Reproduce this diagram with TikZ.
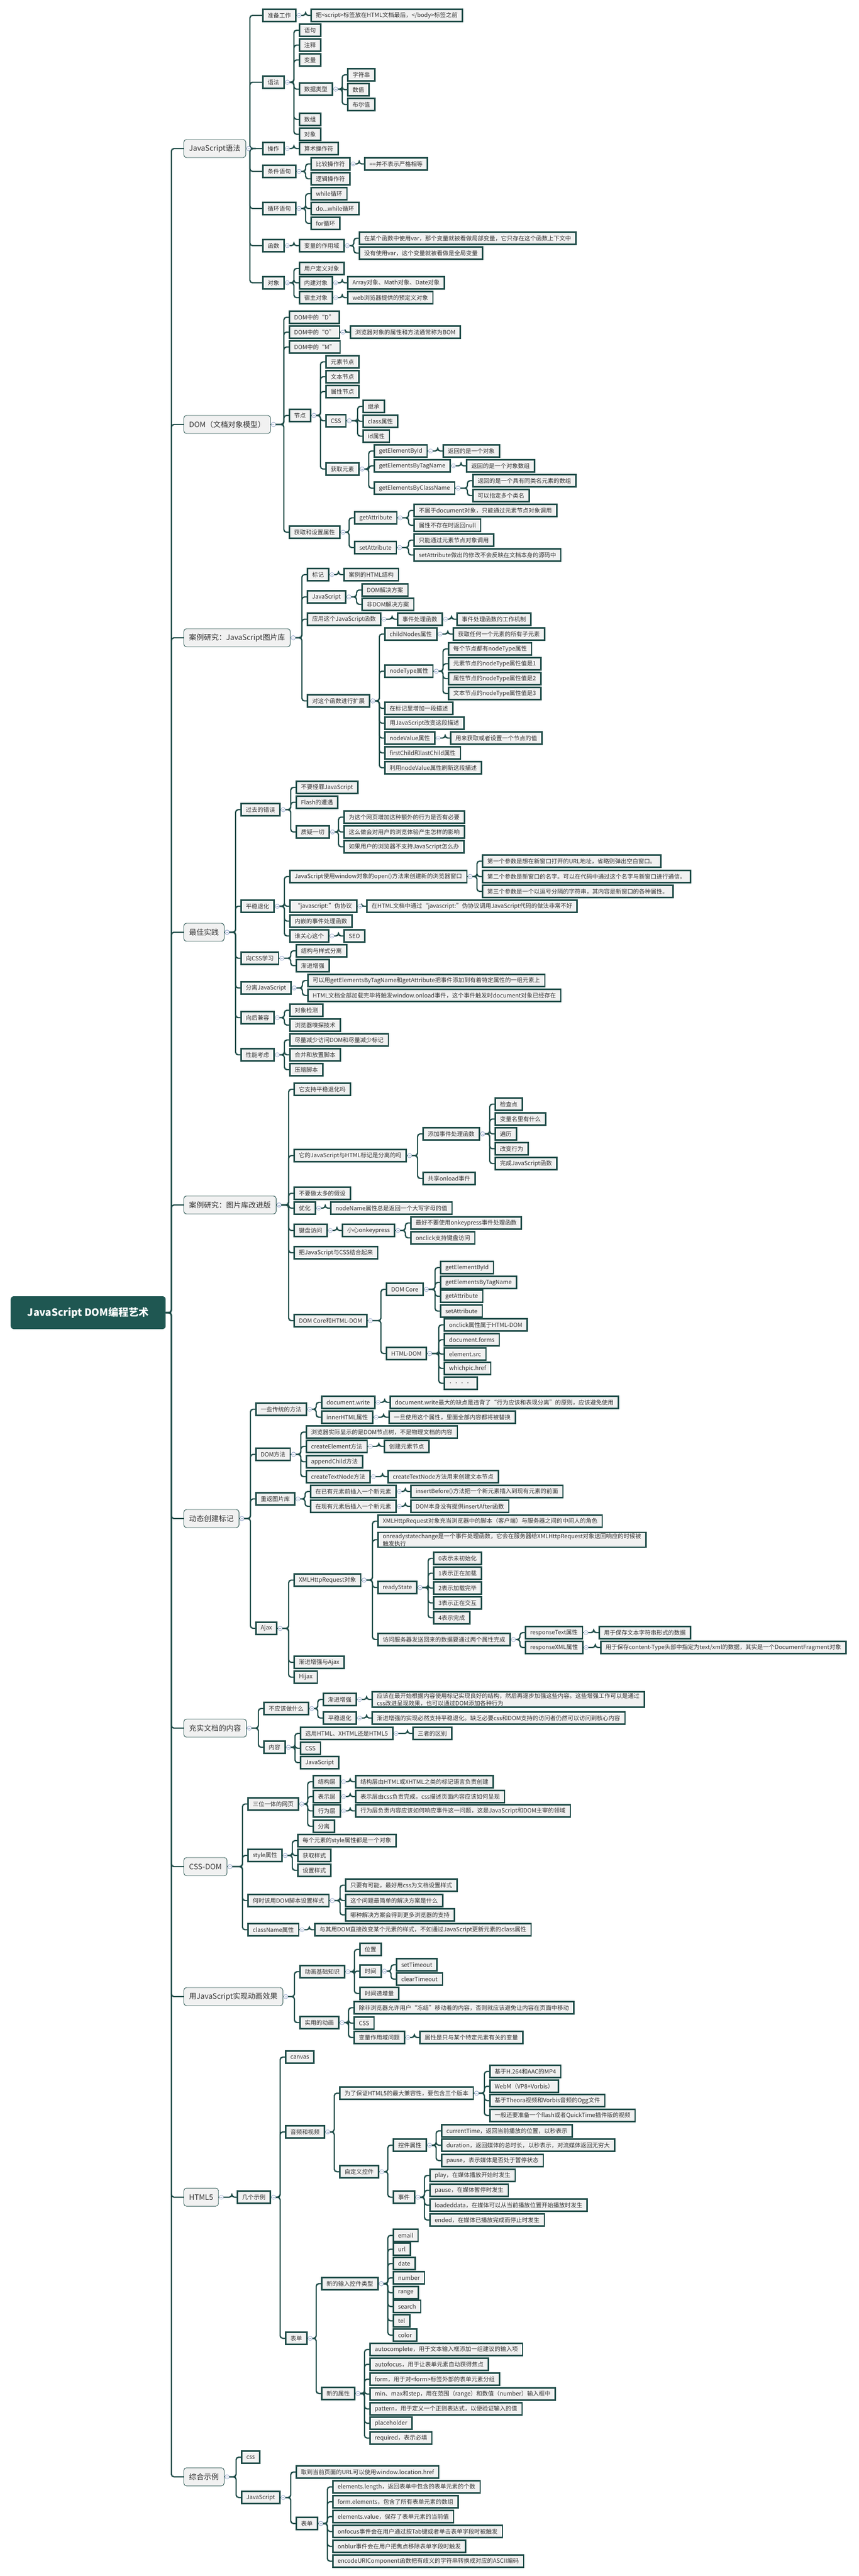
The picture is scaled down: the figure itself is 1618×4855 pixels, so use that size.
\documentclass[tikz,border=0pt]{standalone}
\usepackage{fontspec}
\setmainfont{Noto Sans CJK SC}
\definecolor{tealc}{HTML}{1E4C48}
\definecolor{boxf}{HTML}{F1F1F1}
\definecolor{txt}{HTML}{333333}
\definecolor{cblue}{HTML}{8FA0C8}
\definecolor{rootf}{HTML}{1F5752}
\tikzset{
 box/.style={draw=tealc, line width=2.6pt, fill=boxf, font=\fontsize{11}{14}\selectfont, text=txt, inner xsep=9pt, inner ysep=2pt, minimum height=23pt, anchor=west, align=left},
 lone/.style={draw=tealc, line width=0.9pt, fill=boxf, rounded corners=5pt, font=\fontsize{14}{16}\selectfont, text=txt, minimum height=34pt, inner xsep=10pt, anchor=west},
 rootst/.style={fill=rootf, rounded corners=6pt, text=white, font=\fontsize{19}{22}\selectfont\bfseries, minimum height=62pt, minimum width=292pt, anchor=west},
 conn/.style={draw=tealc, line width=2.4pt, rounded corners=5pt},
 coll/.style={circle, draw=cblue, fill=white, line width=0.6pt, inner sep=0pt, minimum size=8pt}
}
\newcommand\B[4]{\node[box] (#1) at (#2,#3) {#4};}
\newcommand\Lone[3]{\node[lone] (#1) at (346,#2) {#3};}
\newcommand\C[3][9]{\draw[conn] ([xshift=9pt]#2.east) -- ([xshift=-#1pt]#3.west |- #2.east) |- (#3.west);
  \draw[conn,line width=1.2pt] (#2.east) -- ([xshift=1pt]#2.east);
  \node[coll] at ([xshift=5pt]#2.east) {};
  \draw[cblue,line width=0.6pt] ([xshift=3pt]#2.east) -- ([xshift=7pt]#2.east);}
\begin{document}
\begin{tikzpicture}[x=1pt,y=-1pt]
\useasboundingbox (0,0) rectangle (1618,4855);
\node[rootst] (root) at (20,2474) {JavaScript DOM编程艺术};
\Lone{a}{280}{JavaScript语法}
\Lone{b}{800}{DOM（文档对象模型）}
\Lone{c}{1202}{案例研究：JavaScript图片库}
\Lone{d}{1757}{最佳实践}
\Lone{e}{2271}{案例研究：图片库改进版}
\Lone{f}{2862}{动态创建标记}
\Lone{g}{3257}{充实文档的内容}
\Lone{h}{3518}{CSS-DOM}
\Lone{i}{3763}{用JavaScript实现动画效果}
\Lone{j}{4141}{HTML5}
\Lone{k}{4668}{综合示例}
\foreach \n in {a,b,c,d,e,f,g,h,i,j,k}{\draw[conn] (root.east) -- ([xshift=-23pt]\n.west |- root.east) |- (\n.west);}
% a
\B{a1}{494}{29}{准备工作}\B{a1a}{585}{29}{把<script>标签放在HTML文档最后，</body>标签之前}
\B{a2}{494}{155}{语法}
\B{a2a}{563}{57}{语句}\B{a2b}{563}{85}{注释}\B{a2c}{563}{113}{变量}\B{a2d}{563}{168}{数据类型}
\B{a2d1}{654}{141}{字符串}\B{a2d2}{654}{169}{数值}\B{a2d3}{654}{197}{布尔值}
\B{a2e}{563}{225}{数组}\B{a2f}{563}{253}{对象}
\B{a3}{494}{280}{操作}\B{a3a}{563}{280}{算术操作符}
\B{a4}{494}{323}{条件语句}\B{a4a}{585}{309}{比较操作符}\B{a4a1}{686}{309}{==并不表示严格相等}\B{a4b}{585}{337}{逻辑操作符}
\B{a5}{494}{393}{循环语句}\B{a5a}{585}{365}{while循环}\B{a5b}{585}{393}{do...while循环}\B{a5c}{585}{421}{for循环}
\B{a6}{494}{463}{函数}\B{a6a}{563}{463}{变量的作用域}
\B{a6a1}{676}{449}{在某个函数中使用var，那个变量就被看做局部变量，它只存在这个函数上下文中}
\B{a6a2}{676}{477}{没有使用var，这个变量就被看做是全局变量}
\B{a7}{494}{533}{对象}\B{a7a}{563}{506}{用户定义对象}\B{a7b}{563}{533}{内建对象}\B{a7b1}{654}{533}{Array对象、Math对象、Date对象}
\B{a7c}{563}{561}{宿主对象}\B{a7c1}{654}{561}{web浏览器提供的预定义对象}
\foreach \n in {a1,a2,a3,a4,a5,a6,a7}{\C[23]{a}{\n}}
\C{a1}{a1a}
\foreach \n in {a2a,a2b,a2c,a2d,a2e,a2f}{\C{a2}{\n}}
\foreach \n in {a2d1,a2d2,a2d3}{\C{a2d}{\n}}
\C{a3}{a3a}\C{a4}{a4a}\C{a4}{a4b}\C{a4a}{a4a1}
\C{a5}{a5a}\C{a5}{a5b}\C{a5}{a5c}
\C{a6}{a6a}\C{a6a}{a6a1}\C{a6a}{a6a2}
\C{a7}{a7a}\C{a7}{a7b}\C{a7}{a7c}\C{a7b}{a7b1}\C{a7c}{a7c1}
% b
\B{b1}{544}{598}{DOM中的“D”}\B{b2}{544}{626}{DOM中的“O”}\B{b2a}{659}{626}{浏览器对象的属性和方法通常称为BOM}\B{b3}{544}{654}{DOM中的“M”}
\B{b4}{544}{783}{节点}
\B{b4a}{613}{682}{元素节点}\B{b4b}{613}{710}{文本节点}\B{b4c}{613}{738}{属性节点}\B{b4d}{613}{793}{CSS}
\B{b4d1}{683}{766}{继承}\B{b4d2}{683}{794}{class属性}\B{b4d3}{683}{822}{id属性}
\B{b4e}{613}{884}{获取元素}
\B{b4e1}{704}{850}{getElementById}\B{b4e1a}{834}{850}{返回的是一个对象}
\B{b4e2}{704}{878}{getElementsByTagName}\B{b4e2a}{878}{878}{返回的是一个对象数组}
\B{b4e3}{704}{920}{getElementsByClassName}\B{b4e3a}{890}{906}{返回的是一个具有同类名元素的数组}\B{b4e3b}{890}{934}{可以指定多个类名}
\B{b5}{544}{1003}{获取和设置属性}
\B{b5a}{667}{976}{getAttribute}\B{b5a1}{779}{962}{不属于document对象，只能通过元素节点对象调用}\B{b5a2}{779}{990}{属性不存在时返回null}
\B{b5b}{667}{1032}{setAttribute}\B{b5b1}{779}{1018}{只能通过元素节点对象调用}\B{b5b2}{779}{1046}{setAttribute做出的修改不会反映在文档本身的源码中}
\foreach \n in {b1,b2,b3,b4,b5}{\C{b}{\n}}
\C{b2}{b2a}
\foreach \n in {b4a,b4b,b4c,b4d,b4e}{\C{b4}{\n}}
\foreach \n in {b4d1,b4d2,b4d3}{\C{b4d}{\n}}
\foreach \n in {b4e1,b4e2,b4e3}{\C{b4e}{\n}}
\C{b4e1}{b4e1a}\C{b4e2}{b4e2a}\C{b4e3}{b4e3a}\C{b4e3}{b4e3b}
\C{b5}{b5a}\C{b5}{b5b}\C{b5a}{b5a1}\C{b5a}{b5a2}\C{b5b}{b5b1}\C{b5b}{b5b2}
% c
\B{c1}{578}{1083}{标记}\B{c1a}{647}{1083}{案例的HTML结构}
\B{c2}{578}{1125}{JavaScript}\B{c2a}{681}{1112}{DOM解决方案}\B{c2b}{681}{1139}{非DOM解决方案}
\B{c3}{578}{1167}{应用这个JavaScript函数}\B{c3a}{748}{1167}{事件处理函数}\B{c3a1}{860}{1167}{事件处理函数的工作机制}
\B{c4}{578}{1321}{对这个函数进行扩展}
\B{c4a}{724}{1195}{childNodes属性}\B{c4a1}{853}{1195}{获取任何一个元素的所有子元素}
\B{c4b}{724}{1265}{nodeType属性}
\B{c4b1}{844}{1223}{每个节点都有nodeType属性}\B{c4b2}{844}{1251}{元素节点的nodeType属性值是1}
\B{c4b3}{844}{1279}{属性节点的nodeType属性值是2}\B{c4b4}{844}{1307}{文本节点的nodeType属性值是3}
\B{c4c}{724}{1335}{在标记里增加一段描述}\B{c4d}{724}{1363}{用JavaScript改变这段描述}
\B{c4e}{724}{1391}{nodeValue属性}\B{c4e1}{848}{1391}{用来获取或者设置一个节点的值}
\B{c4f}{724}{1419}{firstChild和lastChild属性}\B{c4g}{724}{1447}{利用nodeValue属性刷新这段描述}
\foreach \n in {c1,c2,c3,c4}{\C{c}{\n}}
\C{c1}{c1a}\C{c2}{c2a}\C{c2}{c2b}\C{c3}{c3a}\C{c3a}{c3a1}
\foreach \n in {c4a,c4b,c4c,c4d,c4e,c4f,c4g}{\C{c4}{\n}}
\C{c4a}{c4a1}\C{c4e}{c4e1}
\foreach \n in {c4b1,c4b2,c4b3,c4b4}{\C{c4b}{\n}}
% d
\B{d1}{453}{1526}{过去的错误}
\B{d1a}{557}{1484}{不要怪罪JavaScript}\B{d1b}{557}{1512}{Flash的遭遇}\B{d1c}{557}{1568}{质疑一切}
\B{d1c1}{647}{1540}{为这个网页增加这种额外的行为是否有必要}\B{d1c2}{647}{1568}{这么做会对用户的浏览体验产生怎样的影响}\B{d1c3}{647}{1596}{如果用户的浏览器不支持JavaScript怎么办}
\B{d2}{453}{1708}{平稳退化}
\B{d2a}{545}{1652}{JavaScript使用window对象的open()方法来创建新的浏览器窗口}
\B{d2a1}{908}{1623}{第一个参数是想在新窗口打开的URL地址，省略则弹出空白窗口。}
\B{d2a2}{908}{1652}{第二个参数是新窗口的名字。可以在代码中通过这个名字与新窗口进行通信。}
\B{d2a3}{908}{1680}{第三个参数是一个以逗号分隔的字符串，其内容是新窗口的各种属性。}
\B{d2b}{545}{1708}{“javascript:”伪协议}\B{d2b1}{690}{1708}{在HTML文档中通过“javascript:”伪协议调用JavaScript代码的做法非常不好}
\B{d2c}{545}{1736}{内嵌的事件处理函数}\B{d2d}{545}{1764}{谁关心这个}\B{d2d1}{647}{1764}{SEO}
\B{d3}{453}{1806}{向CSS学习}\B{d3a}{557}{1792}{结构与样式分离}\B{d3b}{557}{1820}{渐进增强}
\B{d4}{453}{1862}{分离JavaScript}
\B{d4a}{579}{1848}{可以用getElementsByTagName和getAttribute把事件添加到有着特定属性的一组元素上}
\B{d4b}{579}{1876}{HTML文档全部加载完毕将触发window.onload事件，这个事件触发时document对象已经存在}
\B{d5}{453}{1918}{向后兼容}\B{d5a}{545}{1904}{对象检测}\B{d5b}{545}{1932}{浏览器嗅探技术}
\B{d6}{453}{1988}{性能考虑}\B{d6a}{545}{1960}{尽量减少访问DOM和尽量减少标记}\B{d6b}{545}{1988}{合并和放置脚本}\B{d6c}{545}{2016}{压缩脚本}
\foreach \n in {d1,d2,d3,d4,d5,d6}{\C{d}{\n}}
\C{d1}{d1a}\C{d1}{d1b}\C{d1}{d1c}\C{d1c}{d1c1}\C{d1c}{d1c2}\C{d1c}{d1c3}
\foreach \n in {d2a,d2b,d2c,d2d}{\C{d2}{\n}}
\C{d2a}{d2a1}\C{d2a}{d2a2}\C{d2a}{d2a3}\C{d2b}{d2b1}\C{d2d}{d2d1}
\C{d3}{d3a}\C{d3}{d3b}\C{d4}{d4a}\C{d4}{d4b}\C{d5}{d5a}\C{d5}{d5b}
\C{d6}{d6a}\C{d6}{d6b}\C{d6}{d6c}
% e
\B{e1}{553}{2053}{它支持平稳退化吗}
\B{e2}{553}{2178}{它的JavaScript与HTML标记是分离的吗}
\B{e2a}{796}{2137}{添加事件处理函数}
\B{e2a1}{932}{2081}{检查点}\B{e2a2}{932}{2109}{变量名里有什么}\B{e2a3}{932}{2137}{遍历}\B{e2a4}{932}{2165}{改变行为}\B{e2a5}{932}{2193}{完成JavaScript函数}
\B{e2b}{796}{2221}{共享onload事件}
\B{e3}{553}{2249}{不要做太多的假设}
\B{e4}{553}{2277}{优化}\B{e4a}{622}{2277}{nodeName属性总是返回一个大写字母的值}
\B{e5}{553}{2319}{键盘访问}\B{e5a}{644}{2319}{小心onkeypress}
\B{e5a1}{773}{2305}{最好不要使用onkeypress事件处理函数}\B{e5a2}{773}{2333}{onclick支持键盘访问}
\B{e6}{553}{2361}{把JavaScript与CSS结合起来}
\B{e7}{553}{2489}{DOM Core和HTML-DOM}
\B{e7a}{727}{2430}{DOM Core}
\B{e7a1}{829}{2389}{getElementById}\B{e7a2}{829}{2417}{getElementsByTagName}\B{e7a3}{829}{2443}{getAttribute}\B{e7a4}{829}{2471}{setAttribute}
\B{e7b}{727}{2551}{HTML-DOM}
\B{e7b1}{836}{2497}{onclick属性属于HTML-DOM}\B{e7b2}{836}{2525}{document.forms}\B{e7b3}{836}{2552}{element.src}\B{e7b4}{836}{2579}{whichpic.href}\B{e7b5}{836}{2607}{．．．．}
\foreach \n in {e1,e2,e3,e4,e5,e6,e7}{\C{e}{\n}}
\C{e2}{e2a}\C{e2}{e2b}
\foreach \n in {e2a1,e2a2,e2a3,e2a4,e2a5}{\C{e2a}{\n}}
\C{e4}{e4a}\C{e5}{e5a}\C{e5a}{e5a1}\C{e5a}{e5a2}
\C{e7}{e7a}\C{e7}{e7b}
\foreach \n in {e7a1,e7a2,e7a3,e7a4}{\C{e7a}{\n}}
\foreach \n in {e7b1,e7b2,e7b3,e7b4,e7b5}{\C{e7b}{\n}}
% f
\B{f1}{481}{2656}{一些传统的方法}
\B{f1a}{605}{2643}{document.write}\B{f1a1}{734}{2643}{document.write最大的缺点是违背了“行为应该和表现分离”的原则，应该避免使用}
\B{f1b}{605}{2671}{innerHTML属性}\B{f1b1}{732}{2671}{一旦使用这个属性，里面全部内容都将被替换}
\B{f2}{481}{2741}{DOM方法}
\B{f2a}{576}{2699}{浏览器实际显示的是DOM节点树，不是物理文档的内容}
\B{f2b}{576}{2726}{createElement方法}\B{f2b1}{723}{2726}{创建元素节点}
\B{f2c}{576}{2755}{appendChild方法}
\B{f2d}{576}{2783}{createTextNode方法}\B{f2d1}{730}{2783}{createTextNode方法用来创建文本节点}
\B{f3}{481}{2825}{重返图片库}
\B{f3a}{584}{2811}{在已有元素前插入一个新元素}\B{f3a1}{773}{2811}{insertBefore()方法把一个新元素插入到现有元素的前面}
\B{f3b}{584}{2839}{在现有元素后插入一个新元素}\B{f3b1}{773}{2839}{DOM本身没有提供insertAfter函数}
\B{f4}{481}{3069}{Ajax}
\B{f4a}{553}{2978}{XMLHttpRequest对象}
\B{f4a1}{711}{2867}{XMLHttpRequest对象充当浏览器中的脚本（客户端）与服务器之间的中间人的角色}
\B{f4a2}{711}{2902}{onreadystatechange是一个事件处理函数，它会在服务器给XMLHttpRequest对象送回响应的时候被\\触发执行}
\B{f4a3}{711}{2992}{readyState}
\B{r0}{816}{2937}{0表示未初始化}\B{r1}{816}{2965}{1表示正在加载}\B{r2}{816}{2993}{2表示加载完毕}\B{r3}{816}{3021}{3表示正在交互}\B{r4}{816}{3049}{4表示完成}
\B{f4a4}{711}{3090}{访问服务器发送回来的数据要通过两个属性完成}
\B{rt}{989}{3077}{responseText属性}\B{rt1}{1128}{3077}{用于保存文本字符串形式的数据}
\B{rx}{989}{3105}{responseXML属性}\B{rx1}{1131}{3105}{用于保存content-Type头部中指定为text/xml的数据，其实是一个DocumentFragment对象}
\B{f4b}{553}{3133}{渐进增强与Ajax}\B{f4c}{553}{3161}{Hijax}
\foreach \n in {f1,f2,f3,f4}{\C{f}{\n}}
\C{f1}{f1a}\C{f1}{f1b}\C{f1a}{f1a1}\C{f1b}{f1b1}
\foreach \n in {f2a,f2b,f2c,f2d}{\C{f2}{\n}}
\C{f2b}{f2b1}\C{f2d}{f2d1}
\C{f3}{f3a}\C{f3}{f3b}\C{f3a}{f3a1}\C{f3b}{f3b1}
\C{f4}{f4a}\C{f4}{f4b}\C{f4}{f4c}
\foreach \n in {f4a1,f4a2,f4a3,f4a4}{\C{f4a}{\n}}
\foreach \n in {r0,r1,r2,r3,r4}{\C{f4a3}{\n}}
\C{f4a4}{rt}\C{f4a4}{rx}\C{rt}{rt1}\C{rx}{rx1}
% g
\B{g1}{496}{3220}{不应该做什么}
\B{g1a}{608}{3203}{渐进增强}\B{g1a1}{700}{3203}{应该在最开始根据内容使用标记实现良好的结构，然后再逐步加强这些内容。这些增强工作可以是通过\\css改进呈现效果，也可以通过DOM添加各种行为}
\B{g1b}{608}{3238}{平稳退化}\B{g1b1}{700}{3238}{渐进增强的实现必然支持平稳退化。缺乏必要css和DOM支持的访问者仍然可以访问到核心内容}
\B{g2}{496}{3293}{内容}
\B{g2a}{565}{3267}{选用HTML、XHTML还是HTML5}\B{g2a1}{777}{3267}{三者的区别}
\B{g2b}{565}{3295}{CSS}\B{g2c}{565}{3322}{JavaScript}
\C{g}{g1}\C{g}{g2}\C{g1}{g1a}\C{g1}{g1b}\C{g1a}{g1a1}\C{g1b}{g1b1}
\C{g2}{g2a}\C{g2}{g2b}\C{g2}{g2c}\C{g2a}{g2a1}
% h
\B{h1}{466}{3400}{三位一体的网页}
\B{h1a}{589}{3358}{结构层}\B{h1a1}{669}{3358}{结构层由HTML或XHTML之类的标记语言负责创建}
\B{h1b}{589}{3386}{表示层}\B{h1b1}{669}{3386}{表示层由css负责完成，css描述页面内容应该如何呈现}
\B{h1c}{589}{3413}{行为层}\B{h1c1}{669}{3413}{行为层负责内容应该如何响应事件这一问题，这是JavaScript和DOM主宰的领域}
\B{h1d}{589}{3442}{分离}
\B{h2}{466}{3497}{style属性}
\B{h2a}{560}{3469}{每个元素的style属性都是一个对象}\B{h2b}{560}{3497}{获取样式}\B{h2c}{560}{3525}{设置样式}
\B{h3}{466}{3582}{何时该用DOM脚本设置样式}
\B{h3a}{650}{3553}{只要有可能，最好用css为文档设置样式}\B{h3b}{650}{3582}{这个问题最简单的解决方案是什么}\B{h3c}{650}{3609}{哪种解决方案会得到更多浏览器的支持}
\B{h4}{466}{3637}{className属性}\B{h4a}{592}{3637}{与其用DOM直接改变某个元素的样式，不如通过JavaScript更新元素的class属性}
\foreach \n in {h1,h2,h3,h4}{\C{h}{\n}}
\foreach \n in {h1a,h1b,h1c,h1d}{\C{h1}{\n}}
\C{h1a}{h1a1}\C{h1b}{h1b1}\C{h1c}{h1c1}
\foreach \n in {h2a,h2b,h2c}{\C{h2}{\n}}
\foreach \n in {h3a,h3b,h3c}{\C{h3}{\n}}
\C{h4}{h4a}
% i
\B{i1}{564}{3716}{动画基础知识}
\B{i1a}{677}{3674}{位置}\B{i1b}{677}{3715}{时间}\B{i1b1}{746}{3703}{setTimeout}\B{i1b2}{746}{3730}{clearTimeout}\B{i1c}{677}{3757}{时间递增量}
\B{i2}{564}{3812}{实用的动画}
\B{i2a}{666}{3784}{除非浏览器允许用户“冻结”移动着的内容，否则就应该避免让内容在页面中移动}
\B{i2b}{666}{3813}{CSS}\B{i2c}{666}{3840}{变量作用域问题}\B{i2c1}{790}{3840}{属性是只与某个特定元素有关的变量}
\C{i}{i1}\C{i}{i2}\C{i1}{i1a}\C{i1}{i1b}\C{i1}{i1c}\C{i1b}{i1b1}\C{i1b}{i1b2}
\C{i2}{i2a}\C{i2}{i2b}\C{i2}{i2c}\C{i2c}{i2c1}
% j
\B{j1}{446}{4141}{几个示例}
\B{j1a}{537}{3877}{canvas}\B{j1b}{537}{4018}{音频和视频}\B{j1c}{537}{4407}{表单}
\B{v1}{639}{3945}{为了保证HTML5的最大兼容性，要包含三个版本}
\B{v1a}{922}{3904}{基于H.264和AAC的MP4}\B{v1b}{922}{3932}{WebM（VP8+Vorbis）}\B{v1c}{922}{3959}{基于Theora视频和Vorbis音频的Ogg文件}\B{v1d}{922}{3987}{一般还要准备一个flash或者QuickTime插件版的视频}
\B{v2}{639}{4093}{自定义控件}
\B{v2a}{740}{4043}{控件属性}
\B{v2a1}{831}{4016}{currentTime，返回当前播放的位置，以秒表示}\B{v2a2}{831}{4043}{duration，返回媒体的总时长，以秒表示，对流媒体返回无穷大}\B{v2a3}{831}{4072}{pause，表示媒体是否处于暂停状态}
\B{v2b}{740}{4141}{事件}
\B{v2b1}{809}{4100}{play，在媒体播放开始时发生}\B{v2b2}{809}{4128}{pause，在媒体暂停时发生}\B{v2b3}{809}{4156}{loadeddata，在媒体可以从当前播放位置开始播放时发生}\B{v2b4}{809}{4184}{ended，在媒体已播放完成而停止时发生}
\B{w1}{605}{4304}{新的输入控件类型}
\B{t1}{740}{4213}{email}\B{t2}{740}{4239}{url}\B{t3}{740}{4266}{date}\B{t4}{740}{4293}{number}\B{t5}{740}{4321}{range}\B{t6}{740}{4347}{search}\B{t7}{740}{4374}{tel}\B{t8}{740}{4401}{color}
\B{w2}{605}{4511}{新的属性}
\B{p1}{696}{4428}{autocomplete，用于文本输入框添加一组建议的输入项}\B{p2}{696}{4456}{autofocus，用于让表单元素自动获得焦点}
\B{p3}{696}{4484}{form，用于对<form>标签外部的表单元素分组}\B{p4}{696}{4512}{min、max和step，用在范围（range）和数值（number）输入框中}
\B{p5}{696}{4540}{pattern，用于定义一个正则表达式，以便验证输入的值}\B{p6}{696}{4567}{placeholder}\B{p7}{696}{4595}{required，表示必填}
\C{j}{j1}\C{j1}{j1a}\C{j1}{j1b}\C{j1}{j1c}
\C{j1b}{v1}\C{j1b}{v2}
\foreach \n in {v1a,v1b,v1c,v1d}{\C{v1}{\n}}
\C{v2}{v2a}\C{v2}{v2b}
\foreach \n in {v2a1,v2a2,v2a3}{\C{v2a}{\n}}
\foreach \n in {v2b1,v2b2,v2b3,v2b4}{\C{v2b}{\n}}
\C{j1c}{w1}\C{j1c}{w2}
\foreach \n in {t1,t2,t3,t4,t5,t6,t7,t8}{\C{w1}{\n}}
\foreach \n in {p1,p2,p3,p4,p5,p6,p7}{\C{w2}{\n}}
% k
\B{k1}{454}{4631}{css}\B{k2}{454}{4707}{JavaScript}
\B{k2a}{557}{4659}{取到当前页面的URL可以使用window.location.href}
\B{k2b}{557}{4756}{表单}
\B{q1}{626}{4687}{elements.length，返回表单中包含的表单元素的个数}\B{q2}{626}{4715}{form.elements，包含了所有表单元素的数组}
\B{q3}{626}{4743}{elements.value，保存了表单元素的当前值}\B{q4}{626}{4771}{onfocus事件会在用户通过按Tab键或者单击表单字段时被触发}
\B{q5}{626}{4799}{onblur事件会在用户把焦点移除表单字段时触发}\B{q6}{626}{4827}{encodeURIComponent函数把有歧义的字符串转换成对应的ASCII编码}
\C{k}{k1}\C{k}{k2}\C{k2}{k2a}\C{k2}{k2b}
\foreach \n in {q1,q2,q3,q4,q5,q6}{\C{k2b}{\n}}
\end{tikzpicture}
\end{document}
